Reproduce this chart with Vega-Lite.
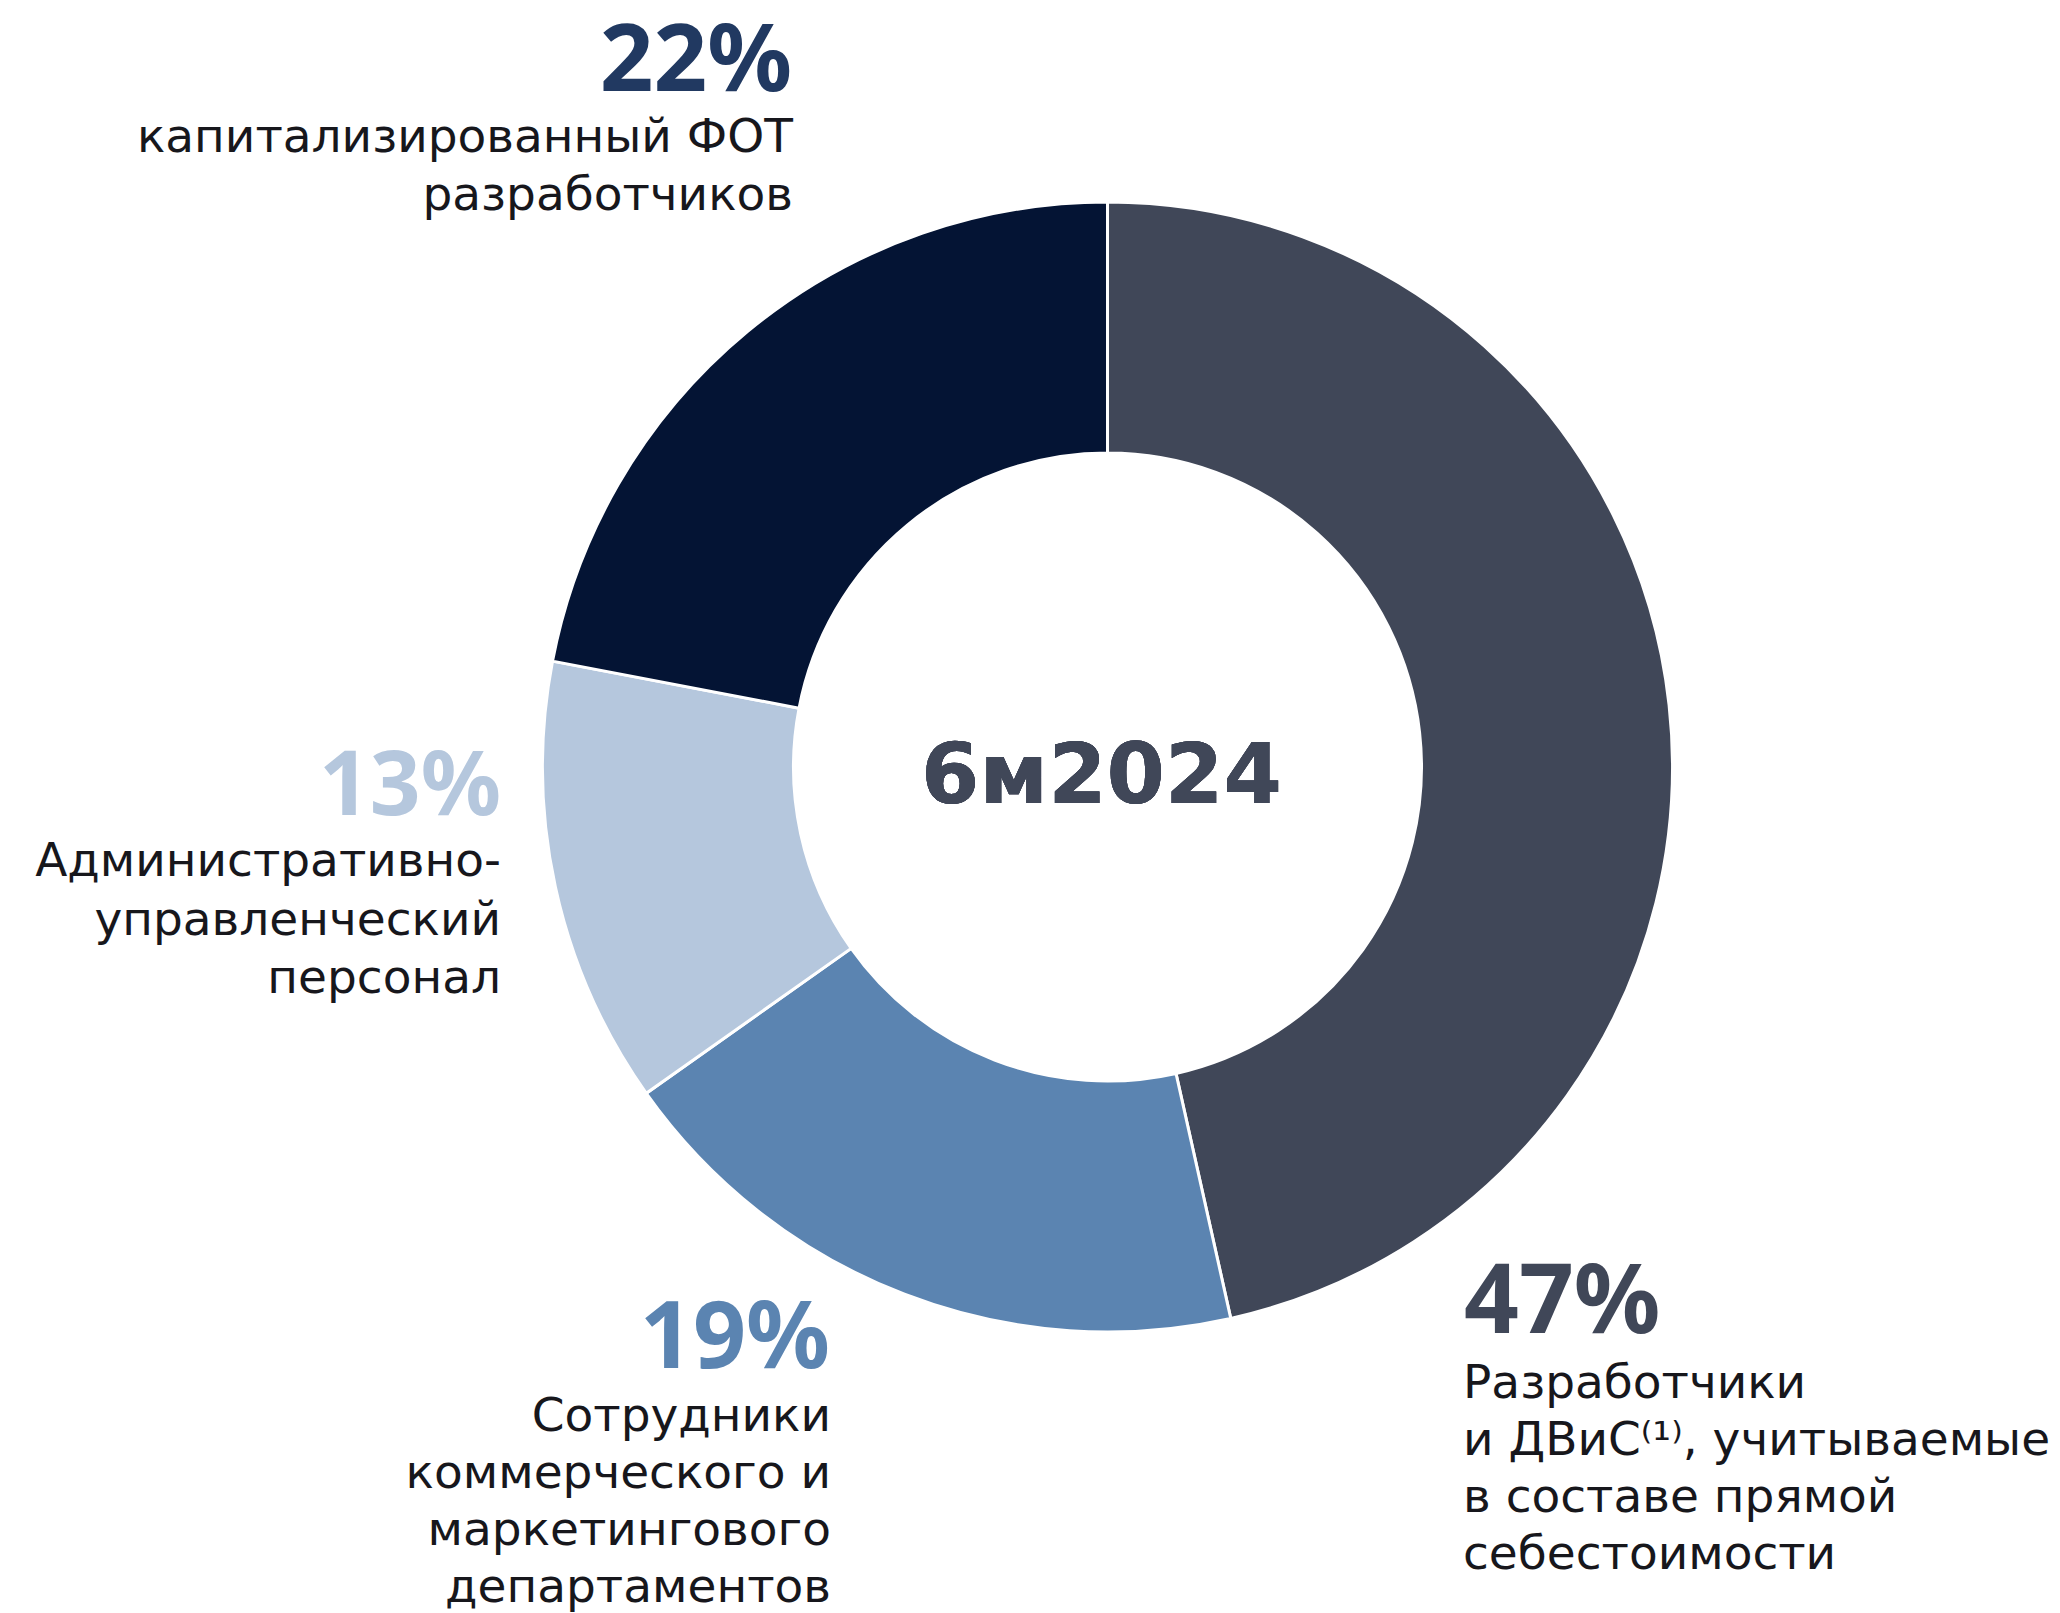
{
  "$schema": "https://vega.github.io/schema/vega-lite/v6.json",
  "width": 1905,
  "height": 1534,
  "autosize": {"type": "none"},
  "padding": {"left": 155, "top": 0, "right": 0, "bottom": 79},
  "background": "white",
  "config": {"view": {"stroke": null}, "text": {"lineBreak": "\n"}},
  "data": {
    "values": [
      {"rank": 1, "category": "Разработчики и ДВиС", "value": 46.5, "pct": "47%", "label": "Разработчики\nи ДВиС⁽¹⁾, учитываемые\nв составе прямой\nсебестоимости"},
      {"rank": 2, "category": "Сотрудники коммерческого и маркетингового департаментов", "value": 18.7, "pct": "19%", "label": "Сотрудники\nкоммерческого и\nмаркетингового\nдепартаментов"},
      {"rank": 3, "category": "Административно-управленческий персонал", "value": 12.8, "pct": "13%", "label": "Административно-\nуправленческий\nперсонал"},
      {"rank": 4, "category": "капитализированный ФОТ разработчиков", "value": 22.0, "pct": "22%", "label": "капитализированный ФОТ\nразработчиков"}
    ]
  },
  "layer": [
    {
      "mark": {"type": "arc", "outerRadius": 565, "innerRadius": 314, "stroke": "white", "strokeWidth": 3},
      "encoding": {
        "theta": {"field": "value", "type": "quantitative", "stack": true},
        "order": {"field": "rank", "type": "quantitative"},
        "color": {
          "field": "category",
          "type": "nominal",
          "scale": {
            "domain": ["Разработчики и ДВиС", "Сотрудники коммерческого и маркетингового департаментов", "Административно-управленческий персонал", "капитализированный ФОТ разработчиков"],
            "range": ["#404758", "#5B84B1", "#B5C7DD", "#041434"]
          },
          "legend": null
        }
      }
    },
    {
      "mark": {"type": "text", "text": "6м2024", "align": "center", "baseline": "alphabetic", "dx": -6, "dy": 36, "font": "DejaVu Sans", "fontWeight": "bold", "fontSize": 84, "color": "#404758"},
      "encoding": {}
    },
    {
      "transform": [{"filter": "datum.rank == 4"}],
      "mark": {"type": "text", "x": 637, "y": 91, "align": "right", "baseline": "alphabetic", "font": "Noto Sans", "fontWeight": "bold", "fontSize": 94, "color": "#213961"},
      "encoding": {"text": {"field": "pct", "type": "nominal"}}
    },
    {
      "transform": [{"filter": "datum.rank == 4"}],
      "mark": {"type": "text", "x": 638, "y": 152, "align": "right", "baseline": "alphabetic", "font": "DejaVu Sans", "fontSize": 47, "lineHeight": 58, "color": "#17171c"},
      "encoding": {"text": {"field": "label", "type": "nominal"}}
    },
    {
      "transform": [{"filter": "datum.rank == 3"}],
      "mark": {"type": "text", "x": 346, "y": 815, "align": "right", "baseline": "alphabetic", "font": "Noto Sans", "fontWeight": "bold", "fontSize": 89, "color": "#B5C7DD"},
      "encoding": {"text": {"field": "pct", "type": "nominal"}}
    },
    {
      "transform": [{"filter": "datum.rank == 3"}],
      "mark": {"type": "text", "x": 346, "y": 876, "align": "right", "baseline": "alphabetic", "font": "DejaVu Sans", "fontSize": 47, "lineHeight": 58.5, "color": "#17171c"},
      "encoding": {"text": {"field": "label", "type": "nominal"}}
    },
    {
      "transform": [{"filter": "datum.rank == 2"}],
      "mark": {"type": "text", "x": 675, "y": 1368, "align": "right", "baseline": "alphabetic", "font": "Noto Sans", "fontWeight": "bold", "fontSize": 93, "color": "#5B84B1"},
      "encoding": {"text": {"field": "pct", "type": "nominal"}}
    },
    {
      "transform": [{"filter": "datum.rank == 2"}],
      "mark": {"type": "text", "x": 676, "y": 1431, "align": "right", "baseline": "alphabetic", "font": "DejaVu Sans", "fontSize": 47, "lineHeight": 57, "color": "#17171c"},
      "encoding": {"text": {"field": "label", "type": "nominal"}}
    },
    {
      "transform": [{"filter": "datum.rank == 1"}],
      "mark": {"type": "text", "x": 1309, "y": 1333, "align": "left", "baseline": "alphabetic", "font": "Noto Sans", "fontWeight": "bold", "fontSize": 96, "color": "#404758"},
      "encoding": {"text": {"field": "pct", "type": "nominal"}}
    },
    {
      "transform": [{"filter": "datum.rank == 1"}],
      "mark": {"type": "text", "x": 1308, "y": 1398, "align": "left", "baseline": "alphabetic", "font": "DejaVu Sans", "fontWeight": "normal", "fontSize": 47, "lineHeight": 57, "color": "#17171c"},
      "encoding": {"text": {"field": "label", "type": "nominal"}}
    }
  ]
}
